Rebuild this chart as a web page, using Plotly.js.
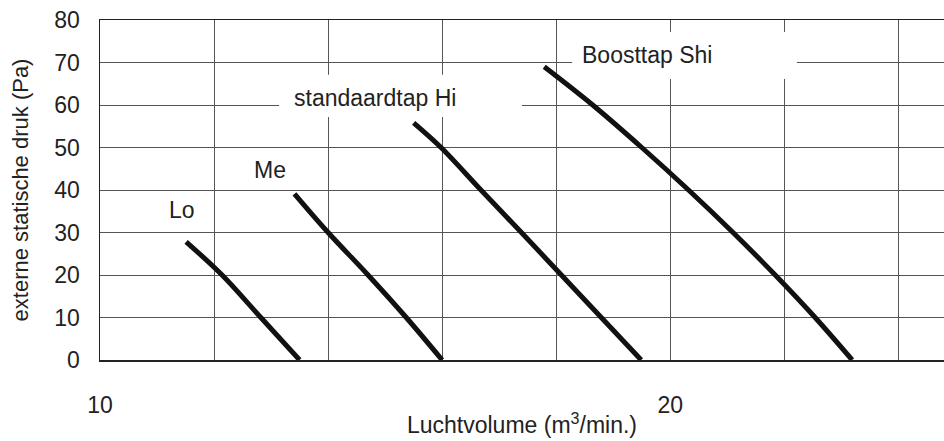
<!DOCTYPE html>
<html>
<head>
<meta charset="utf-8">
<script src="https://cdn.plot.ly/plotly-3.0.1.min.js"></script>
<style>html,body{margin:0;padding:0;background:#fff;}#chart{width:944px;height:441px;}</style>
</head>
<body>
<div id="chart"></div>
<script>
// Curve data (x: Luchtvolume m3/min, y: Pa)
const loX  = [11.51, 12.14, 12.82, 13.50];
const loY  = [27.8, 20, 10, 0];
const meX  = [13.41, 14.00, 14.70, 15.37, 16.00];
const meY  = [39.1, 30, 20, 10, 0];
const hiX  = [15.50, 15.98, 16.68, 17.39, 18.09, 18.79, 19.49];
const hiY  = [55.8, 50, 40, 30, 20, 10, 0];
const shiX = [17.79, 18.64, 19.50, 20.32, 21.10, 21.84, 22.54, 23.19];
const shiY = [69.0, 60, 50, 40, 30, 20, 10, 0];

const seriesNames = ['Lo', 'Me', 'standaardtap Hi', 'Boosttap Shi'];
const labelX = [11.44, 12.98, 14.83, 19.59];
const labelY = [35.3, 44.7, 61.65, 71.65];

const xTickVals = [10, 20];
const xTickText = ['10', '20'];
const yTickVals = [0, 10, 20, 30, 40, 50, 60, 70, 80];

const FONT = 'Liberation Sans, Arial, Helvetica, sans-serif';
const curveLine = {color: '#111', width: 5, shape: 'spline', smoothing: 1.0};

const traces = [
  {x: loX, y: loY, name: seriesNames[0]},
  {x: meX, y: meY, name: seriesNames[1]},
  {x: hiX, y: hiY, name: seriesNames[2]},
  {x: shiX, y: shiY, name: seriesNames[3]}
].map(t => Object.assign(t, {type: 'scatter', mode: 'lines', line: curveLine, hoverinfo: 'skip'}));

const annotations = seriesNames.map((s, i) => ({
  x: labelX[i], y: labelY[i], xref: 'x', yref: 'y',
  text: s, showarrow: false,
  font: {family: FONT, size: 23, color: '#222'}
}));

// white label backgrounds that interrupt the grid behind the two upper labels
const shapes = [
  {type: 'rect', xref: 'x', yref: 'y', x0: 13.14, x1: 17.40, y0: 57.2, y1: 67.1,
   fillcolor: '#ffffff', line: {width: 0}, layer: 'between'},
  {type: 'rect', xref: 'x', yref: 'y', x0: 18.28, x1: 22.22, y0: 66.1, y1: 77.2,
   fillcolor: '#ffffff', line: {width: 0}, layer: 'between'}
];

const layout = {
  width: 944, height: 441,
  margin: {l: 100, r: 0, t: 20, b: 81, pad: 0},
  paper_bgcolor: '#fff', plot_bgcolor: '#fff',
  showlegend: false,
  font: {family: FONT, size: 23, color: '#222'},
  xaxis: {
    range: [10, 24.8],
    tickmode: 'array', tickvals: xTickVals, ticktext: xTickText,
    ticks: 'outside', ticklen: 24, tickcolor: 'rgba(0,0,0,0)',
    showgrid: true, gridcolor: '#555', gridwidth: 1,
    minor: {tick0: 10, dtick: 2, showgrid: true, gridcolor: '#555', gridwidth: 1, ticks: ''},
    showline: true, mirror: true, linecolor: '#222', linewidth: 1.5,
    zeroline: false,
    tickfont: {family: FONT, size: 23, color: '#222'},
    title: {text: 'Luchtvolume (m<sup>3</sup>/min.)', font: {family: FONT, size: 23, color: '#222'}, standoff: 0},
    automargin: false, fixedrange: true
  },
  yaxis: {
    range: [0, 80],
    tickmode: 'array', tickvals: yTickVals,
    ticks: 'outside', ticklen: 14, tickcolor: 'rgba(0,0,0,0)',
    showgrid: true, gridcolor: '#555', gridwidth: 1,
    showline: true, linecolor: '#222', linewidth: 1.5,
    zeroline: false,
    tickfont: {family: FONT, size: 23, color: '#222'},
    title: {text: 'externe statische druk (Pa)', font: {family: FONT, size: 22, color: '#222'}, standoff: 19},
    automargin: false, fixedrange: true
  },
  shapes: shapes,
  annotations: annotations
};

Plotly.newPlot('chart', traces, layout, {staticPlot: true, displayModeBar: false});
</script>
</body>
</html>
